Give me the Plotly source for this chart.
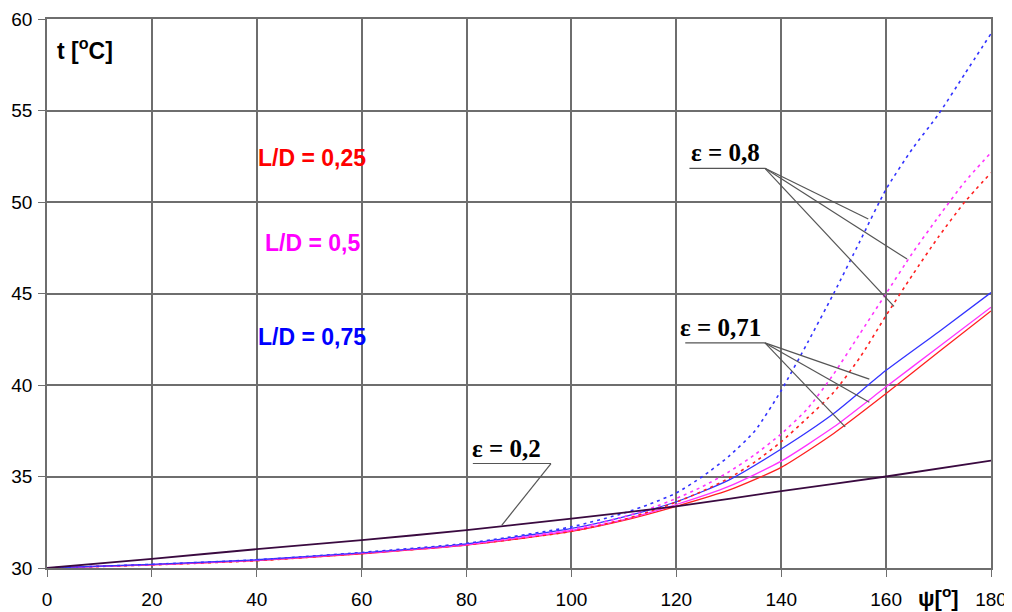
import plotly.graph_objects as go

# ---------------- data ----------------
psi_02 = [0, 20, 40, 60, 80, 100, 120, 140, 160, 180]
t_eps02 = [30.0, 30.5, 31.03, 31.52, 32.07, 32.7, 33.37, 34.2, 35.0, 35.87]

psi_071 = [0, 20, 40, 60, 80, 100, 110, 120, 130, 140, 150, 160, 170, 180]
t071_ld025 = [30.0, 30.17, 30.4, 30.78, 31.25, 32.0, 32.6, 33.37, 34.25, 35.5, 37.35, 39.53, 41.8, 44.05]
t071_ld05 = [30.0, 30.18, 30.42, 30.8, 31.27, 32.05, 32.65, 33.47, 34.46, 35.84, 37.7, 39.9, 42.08, 44.25]
t071_ld075 = [30.0, 30.2, 30.45, 30.83, 31.32, 32.16, 32.8, 33.62, 34.8, 36.5, 38.44, 40.8, 42.9, 45.05]

psi_08 = [0, 20, 40, 60, 80, 100, 110, 115, 120, 125, 130, 135, 140, 145, 150, 155, 160, 165, 170, 175, 180]
t08_ld025 = [30.0, 30.17, 30.4, 30.8, 31.27, 32.0, 32.65, 33.1, 33.6, 34.2, 34.9, 35.8, 36.9, 38.2, 39.6, 41.5, 43.8, 46.0, 48.1, 50.0, 51.6]
t08_ld05 = [30.0, 30.18, 30.43, 30.82, 31.3, 32.1, 32.8, 33.25, 33.8, 34.45, 35.25, 36.2, 37.33, 38.7, 40.6, 42.8, 45.0, 47.2, 49.2, 51.1, 52.7]
t08_ld075 = [30.0, 30.2, 30.45, 30.85, 31.35, 32.25, 33.0, 33.5, 34.1, 35.0, 36.1, 37.5, 39.7, 42.3, 45.0, 47.85, 50.7, 52.9, 54.8, 57.0, 59.2]

x_ticks = [0, 20, 40, 60, 80, 100, 120, 140, 160, 180]
y_ticks = [30, 35, 40, 45, 50, 55, 60]

ld_labels = ["L/D = 0,25", "L/D = 0,5", "L/D = 0,75"]
eps_labels = ["ε = 0,8", "ε = 0,71", "ε = 0,2"]

RED, MAG, BLUE, DARK = "#ff2020", "#ff33ff", "#3333ff", "#3a0a40"
DASH = "3px,4px"

fig = go.Figure()

def add(x, y, color, dash=None, width=1.3):
    fig.add_trace(go.Scatter(x=x, y=y, mode="lines", showlegend=False,
                             line=dict(color=color, width=width, dash=dash, shape="spline", smoothing=0.6),
                             hoverinfo="skip"))

add(psi_071, t071_ld025, RED)
add(psi_071, t071_ld05, MAG)
add(psi_071, t071_ld075, BLUE)
add(psi_08, t08_ld025, RED, DASH, 1.6)
add(psi_08, t08_ld05, MAG, DASH, 1.6)
add(psi_08, t08_ld075, BLUE, DASH, 1.6)
add(psi_02, t_eps02, DARK, None, 1.8)

# leader lines (annotation graphics)
LC = "#555555"
leaders = [
    # eps 0.8
    (122.5, 51.84, 136.9, 51.84), (136.9, 51.84, 156.6, 49.07),
    (136.9, 51.84, 164.0, 46.88), (136.9, 51.84, 161.5, 44.30),
    # eps 0.71
    (121.7, 42.30, 136.9, 42.30), (136.9, 42.30, 156.8, 40.32),
    (136.9, 42.30, 156.8, 39.06), (136.9, 42.30, 152.2, 37.71),
    # eps 0.2
    (81.2, 35.71, 96.1, 35.71), (96.1, 35.71, 86.7, 32.33),
]
for x0, y0, x1, y1 in leaders:
    fig.add_shape(type="line", x0=x0, y0=y0, x1=x1, y1=y1, xref="x", yref="y",
                  line=dict(color=LC, width=1.2))

serif = dict(family="Liberation Serif, Times New Roman, serif", size=25, color="black")
for txt, x, y in zip(eps_labels, [129.3, 128.4, 87.7], [51.84, 42.30, 35.71]):
    fig.add_annotation(x=x, y=y, text="<b>" + txt + "</b>", showarrow=False,
                       xanchor="center", yanchor="bottom", yshift=0, font=serif)

for txt, col, y in zip(ld_labels, ["#ff0000", "#ff00ff", "#0000ff"], [52.38, 47.74, 42.6]):
    fig.add_annotation(x=50.6, y=y, text="<b>" + txt + "</b>", showarrow=False,
                       xanchor="center", yanchor="middle",
                       font=dict(family="Arial, Liberation Sans, sans-serif", size=23, color=col))

fig.add_annotation(x=1.6, y=58.35, text="<b>t [<sup>o</sup>C]</b>", showarrow=False,
                   xanchor="left", yanchor="middle",
                   font=dict(family="Arial, Liberation Sans, sans-serif", size=23, color="black"))
fig.add_annotation(x=170.0, y=-0.052, xref="x", yref="paper", text="<b>ψ[<sup>o</sup>]</b>",
                   showarrow=False, xanchor="center", yanchor="middle",
                   font=dict(family="Arial, Liberation Sans, sans-serif", size=22, color="black"))

GRID = "#6e6e6e"
axis_common = dict(showgrid=True, gridcolor=GRID, gridwidth=1.6, zeroline=False,
                   showline=True, linecolor=GRID, linewidth=1.6, mirror=True,
                   ticks="outside", ticklen=7, tickcolor=GRID, tickwidth=1.4, automargin=False,
                   tickfont=dict(family="Arial, Liberation Sans, sans-serif", size=19, color="black"))

fig.update_xaxes(range=[0, 180], tickvals=x_ticks, ticktext=[str(v) for v in x_ticks],
                 ticklabelstandoff=6, **axis_common)
fig.update_yaxes(range=[30, 60], tickvals=y_ticks, ticktext=[str(v) for v in y_ticks],
                 ticklabelstandoff=2, **axis_common)

# page body adds an 8px offset, so the figure is sized to fit the 1012x612 window
fig.update_layout(width=1004, height=604, margin=dict(l=39, r=21, t=11, b=44),
                  plot_bgcolor="white", paper_bgcolor="white")

fig.write_html("out.html")
